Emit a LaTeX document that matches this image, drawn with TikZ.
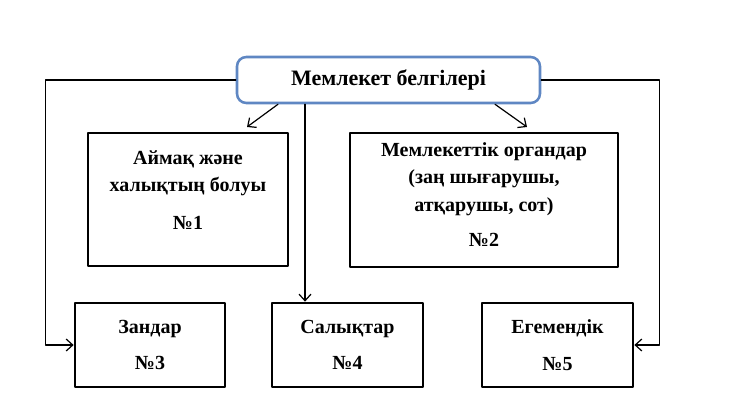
\documentclass[tikz,border=0pt]{standalone}
\usepackage{fontspec}
\setmainfont{Liberation Serif}
\usetikzlibrary{arrows.meta}
\definecolor{headblue}{RGB}{95,135,195}
\tikzset{
  headbox/.style={draw=headblue, line width=1.9pt, rounded corners=7pt, fill=white,
    minimum width=303*0.75pt, minimum height=46*0.75pt, font=\fontsize{16.5}{18}\selectfont\bfseries},
  signbox/.style={draw, line width=2pt, align=center, inner sep=0pt,
    font=\fontsize{15}{20.5}\selectfont\bfseries},
  link/.style={-{Straight Barb[length=5pt,width=9pt,line width=0.9pt]}, line width=0.9pt}
}
\begin{document}
\begin{tikzpicture}[x=0.75pt, y=-0.75pt, line cap=round, line join=round]
\useasboundingbox (0,0) rectangle (750,399);

% Head node
\node[headbox] (top) at (388.5,80) {Мемлекет белгілері};

% Upper boxes
\node[signbox, minimum width=200*0.75pt, minimum height=133*0.75pt, text depth=14pt] (terr) at (188,199.5)
  {Аймақ және\\халықтың болуы\\[8pt]№1};
\node[signbox, minimum width=268*0.75pt, minimum height=134*0.75pt, text depth=8pt] (organ) at (484,200)
  {Мемлекеттік органдар\\(заң шығарушы,\\атқарушы, сот)\\[6pt]№2};

% Lower boxes
\node[signbox, minimum width=150*0.75pt, minimum height=84*0.75pt] (law) at (150,345)
  {Зандар\\[7pt]№3};
\node[signbox, minimum width=151*0.75pt, minimum height=84*0.75pt] (tax) at (347.5,345)
  {Салықтар\\[7pt]№4};
\node[signbox, minimum width=151*0.75pt, minimum height=84*0.75pt] (sov) at (557.5,345)
  {Егемендік\\[7pt]№5};

% Helper points
\coordinate (mid) at (305,0);
\coordinate (s1) at (278,0);
\coordinate (e1) at (247,127);
\coordinate (s2) at (495,0);
\coordinate (e2) at (527,127);

% Connectors
\draw[link] (top.south -| s1) -- (e1);
\draw[link] (top.south -| s2) -- (e2);
\draw[link] (top.south -| mid) -- (tax.north -| mid);
\draw[link] (top.west) -- ++(-190,0) |- (law.west);
\draw[link] (top.east) -- ++(118,0) |- (sov.east);

\end{tikzpicture}
\end{document}
